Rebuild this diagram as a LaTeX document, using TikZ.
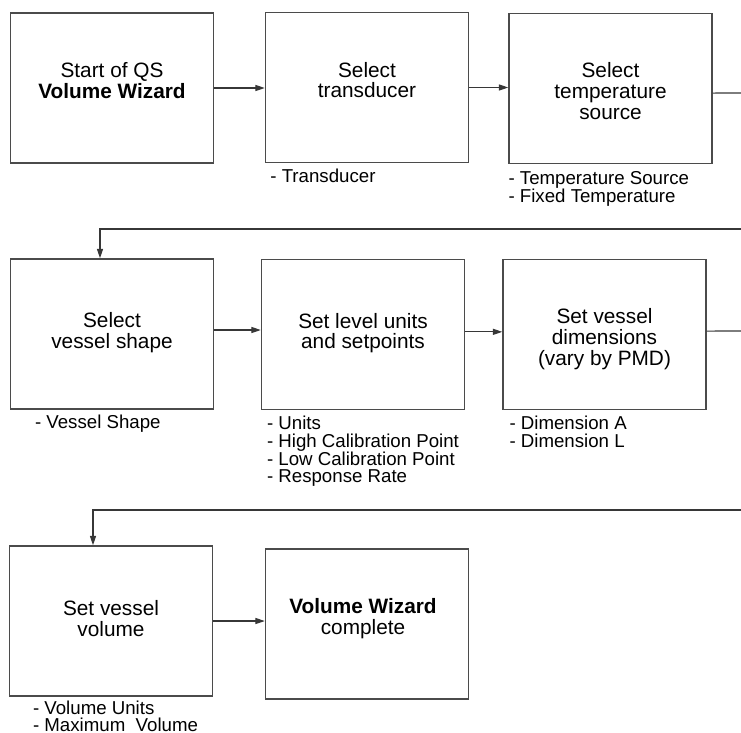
\documentclass[tikz,border=0pt]{standalone}
\usepackage{fontspec}
\setmainfont{Liberation Sans}
\usepackage{tikz}
\usetikzlibrary{arrows.meta,positioning}
\definecolor{boxgray}{RGB}{75,75,75}
\definecolor{linegray}{RGB}{55,55,55}

\begin{document}
\begin{tikzpicture}[x=0.75pt,y=-0.75pt,
  stepbox/.style={draw=boxgray,line width=1.1pt,minimum width=152.25pt,minimum height=112.5pt,inner sep=0pt},
  boxtext/.style={font=\fontsize{15.6}{15.5}\selectfont,align=center,inner sep=0pt},
  notes/.style={font=\fontsize{14}{13.4}\selectfont,align=left,inner sep=0pt},
  wire/.style={draw=linegray,line width=0.8pt},
  arr/.style={wire,-{Triangle[length=7pt,width=4.5pt]}}]
  \useasboundingbox (0,0) rectangle (741,732);
  \node[stepbox] (b1) at (112,88) {};
  \node[boxtext,yshift=5.5pt] (t1) at (b1) {Start of QS\\\textbf{Volume Wizard}};
  \node[stepbox] (b2) at (367,87.5) {};
  \node[boxtext,yshift=5.5pt] (t2) at (b2) {Select\\transducer};
  \node[notes,below right=3.8pt and 4pt of b2.south west] (n2) {- Transducer};
  \node[stepbox] (b3) at (610.5,88.5) {};
  \node[boxtext,yshift=-1.9pt] (t3) at (b3) {Select\\temperature\\source};
  \node[notes,below right=5.2pt and 0pt of b3.south west] (n3) {- Temperature Source\\- Fixed Temperature};
  \coordinate (out1) at (741,93);
  \node[stepbox] (b4) at (112,334) {};
  \node[boxtext,yshift=1.2pt] (t4) at (b4) {Select\\vessel shape};
  \node[notes,below right=3.4pt and 18.75pt of b4.south west] (n4) {- Vessel Shape};
  \coordinate (in2) at (741,229);
  \node[stepbox] (b5) at (363,334.5) {};
  \node[boxtext,yshift=1pt] (t5) at (b5) {Set level units\\and setpoints};
  \node[notes,below right=4pt and 4.5pt of b5.south west] (n5) {- Units\\- High Calibration Point\\- Low Calibration Point\\- Response Rate};
  \node[stepbox] (b6) at (604.5,334.5) {};
  \node[boxtext,yshift=-3.4pt] (t6) at (b6) {Set vessel\\dimensions\\(vary by PMD)};
  \node[notes,below right=4pt and 5.25pt of b6.south west] (n6) {- Dimension A\\- Dimension L};
  \coordinate (out2) at (741,331);
  \node[stepbox] (b7) at (111,621) {};
  \node[boxtext,yshift=1.9pt] (t7) at (b7) {Set vessel\\volume};
  \node[notes,font=\fontsize{14}{12.9}\selectfont,below right=2.6pt and 18pt of b7.south west] (n7) {- Volume Units\\- Maximum~ Volume};
  \coordinate (in3) at (741,510);
  \node[stepbox] (b8) at (367,624) {};
  \node[boxtext,xshift=-3pt,yshift=4pt] (t8) at (b8) {\textbf{Volume Wizard}\\complete};
  \draw[arr] (b1.east) -- (b1.east -| b2.west);
  \draw[arr] (b2.east) -- (b2.east -| b3.west);
  \draw[wire] ([yshift=-3.4pt]b3.east) -- (out1);
  \draw[arr] (in2) -| ([xshift=-9pt]b4.north);
  \draw[arr] ([yshift=3pt]b4.east) -- ([yshift=3pt]b4.east -| b5.west);
  \draw[arr] ([yshift=2pt]b5.east) -- ([yshift=2pt]b5.east -| b6.west);
  \draw[wire] ([yshift=2.6pt]b6.east) -- (out2);
  \draw[arr] (in3) -| ([xshift=-13.5pt]b7.north);
  \draw[arr] (b7.east) -- (b7.east -| b8.west);
\end{tikzpicture}
\end{document}
